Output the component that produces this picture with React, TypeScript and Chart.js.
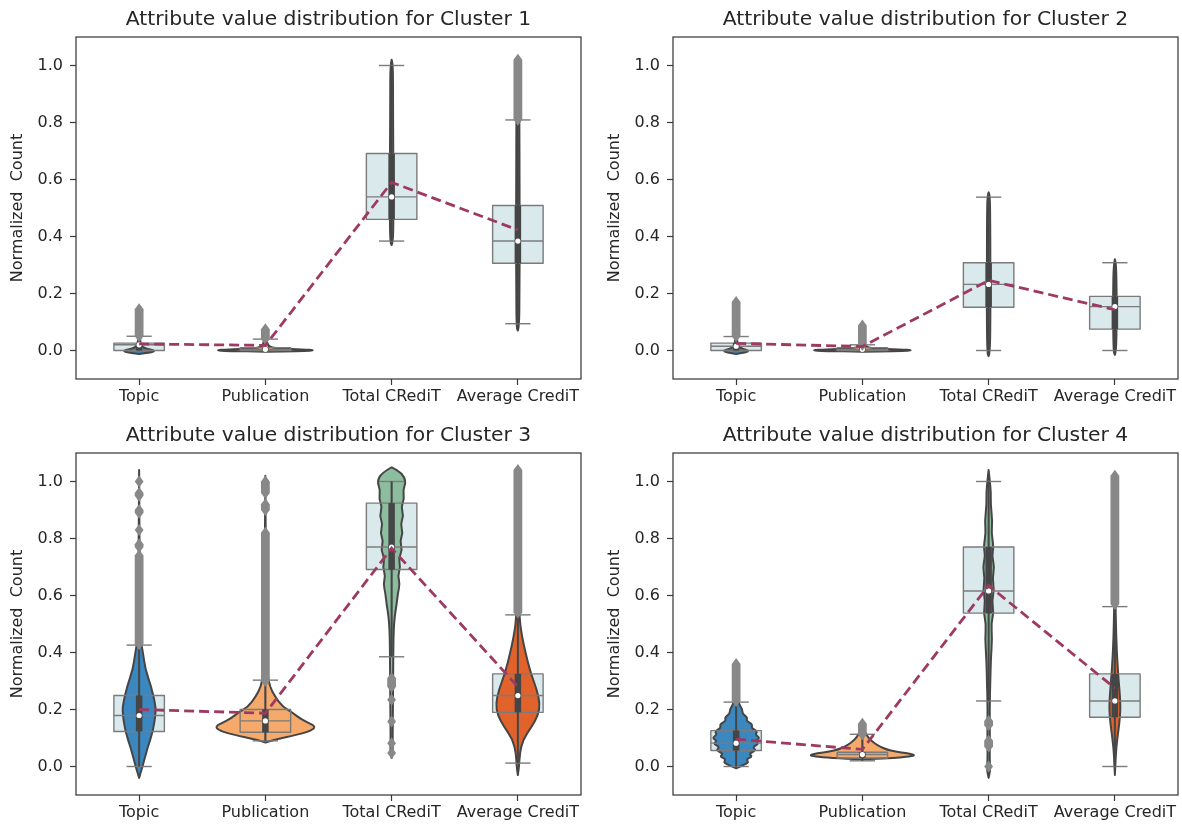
import React, { useEffect, useRef } from 'react';
import { Chart, registerables } from 'chart.js';

Chart.register(...registerables);

// ---------------- data ----------------
const CATEGORIES = ['Topic', 'Publication', 'Total CRediT', 'Average CrediT'];
const TITLES = [
  'Attribute value distribution for Cluster 1',
  'Attribute value distribution for Cluster 2',
  'Attribute value distribution for Cluster 3',
  'Attribute value distribution for Cluster 4',
];
const Y_TICKS = [0, 0.2, 0.4, 0.6, 0.8, 1.0];
const Y_LABEL = 'Normalized  Count';

// box stats per category: [lower whisker, Q1, median, Q3, upper whisker]
const C1_BOX = [
  [0.0, 0.0, 0.02, 0.026, 0.05],
  [0.0, 0.0, 0.004, 0.01, 0.04],
  [0.384, 0.46, 0.539, 0.691, 1.0],
  [0.094, 0.306, 0.384, 0.509, 0.809],
];
const C2_BOX = [
  [0.0, 0.0, 0.015, 0.026, 0.049],
  [0.0, 0.0, 0.004, 0.01, 0.02],
  [0.0, 0.152, 0.232, 0.308, 0.538],
  [0.0, 0.075, 0.154, 0.19, 0.308],
];
const C3_BOX = [
  [0.0, 0.123, 0.179, 0.249, 0.426],
  [0.09, 0.12, 0.16, 0.2, 0.303],
  [0.385, 0.691, 0.77, 0.924, 1.0],
  [0.012, 0.19, 0.249, 0.325, 0.532],
];
const C4_BOX = [
  [0.0, 0.056, 0.082, 0.126, 0.226],
  [0.02, 0.03, 0.042, 0.05, 0.113],
  [0.23, 0.538, 0.616, 0.77, 1.0],
  [0.0, 0.173, 0.23, 0.325, 0.561],
];

// mean per category (dashed line)
const C1_MEAN = [0.023, 0.018, 0.59, 0.423];
const C2_MEAN = [0.025, 0.014, 0.246, 0.143];
const C3_MEAN = [0.2, 0.187, 0.766, 0.28];
const C4_MEAN = [0.096, 0.06, 0.635, 0.275];

// outliers per category: [low, high] runs of overlapping markers
const C1_FLIERS = [[[0.05, 0.145]], [[0.04, 0.075]], [], [[0.81, 1.02]]];
const C2_FLIERS = [[[0.05, 0.17]], [[0.02, 0.088]], [], []];
const C3_FLIERS = [
  [[0.43, 0.74], [0.77, 0.78], [0.83, 0.83], [0.89, 0.9], [0.95, 0.96], [1.0, 1.0]],
  [[0.3, 0.82], [0.9, 0.92], [0.96, 1.0]],
  [[0.28, 0.31], [0.234, 0.234], [0.158, 0.158], [0.082, 0.082], [0.047, 0.047]],
  [[0.54, 1.04]],
];
const C4_FLIERS = [
  [[0.23, 0.36]],
  [[0.113, 0.15]],
  [[0.145, 0.16], [0.07, 0.09], [0.0, 0.0]],
  [[0.57, 1.02]],
];

// violin profiles: [value, half width as share of category width]
const C1_VIOLINS = [
  [[-0.012, 0], [-0.007, 0.09], [-0.002, 0.125], [0.003, 0.1], [0.008, 0.04], [0.02, 0.012], [0.05, 0.006], [0.15, 0]],
  [[-0.004, 0], [-0.002, 0.3], [0.001, 0.4], [0.004, 0.3], [0.007, 0.1], [0.012, 0.03], [0.03, 0.01], [0.075, 0]],
  [[0.37, 0], [0.38, 0.01], [0.45, 0.014], [0.6, 0.014], [0.75, 0.012], [0.9, 0.011], [1.0, 0.01], [1.02, 0]],
  [[0.07, 0], [0.08, 0.01], [0.2, 0.013], [0.4, 0.014], [0.6, 0.013], [0.8, 0.012], [1.0, 0.01], [1.02, 0]],
];
const C2_VIOLINS = [
  [[-0.012, 0], [-0.007, 0.07], [-0.002, 0.1], [0.003, 0.08], [0.008, 0.035], [0.02, 0.012], [0.05, 0.005], [0.17, 0]],
  [[-0.004, 0], [-0.002, 0.3], [0.001, 0.41], [0.004, 0.3], [0.007, 0.08], [0.015, 0.02], [0.04, 0.008], [0.09, 0]],
  [[-0.02, 0], [-0.01, 0.01], [0.1, 0.014], [0.3, 0.014], [0.5, 0.012], [0.545, 0.008], [0.555, 0]],
  [[-0.015, 0], [-0.005, 0.01], [0.1, 0.014], [0.2, 0.014], [0.3, 0.01], [0.32, 0]],
];
const C3_VIOLINS = [
  [[-0.04, 0], [0.0, 0.027], [0.064, 0.065], [0.123, 0.11], [0.19, 0.132], [0.22, 0.127], [0.28, 0.096], [0.34, 0.05], [0.4, 0.03], [0.45, 0.01], [0.6, 0.005], [1.04, 0]],
  [[0.084, 0], [0.094, 0.07], [0.111, 0.25], [0.125, 0.36], [0.14, 0.4], [0.155, 0.33], [0.17, 0.27], [0.187, 0.22], [0.21, 0.137], [0.246, 0.075], [0.28, 0.035], [0.33, 0.015], [0.5, 0.006], [1.02, 0]],
  [[0.03, 0], [0.05, 0.01], [0.1, 0.008], [0.2, 0.01], [0.3, 0.012], [0.4, 0.013], [0.48, 0.016], [0.53, 0.025], [0.57, 0.04], [0.61, 0.05], [0.64, 0.065], [0.67, 0.05], [0.7, 0.07], [0.73, 0.055], [0.76, 0.085], [0.79, 0.065], [0.82, 0.09], [0.85, 0.07], [0.88, 0.095], [0.91, 0.075], [0.94, 0.1], [0.97, 0.09], [1.0, 0.115], [1.03, 0.08], [1.05, 0]],
  [[-0.03, 0], [0.0, 0.01], [0.047, 0.015], [0.094, 0.04], [0.14, 0.11], [0.18, 0.16], [0.22, 0.175], [0.27, 0.15], [0.33, 0.1], [0.4, 0.06], [0.456, 0.033], [0.51, 0.015], [0.6, 0.006], [1.04, 0]],
];
const C4_VIOLINS = [
  [[-0.006, 0], [0.005, 0.06], [0.015, 0.1], [0.025, 0.08], [0.035, 0.13], [0.045, 0.1], [0.057, 0.16], [0.068, 0.13], [0.08, 0.18], [0.09, 0.15], [0.1, 0.19], [0.112, 0.15], [0.123, 0.17], [0.135, 0.12], [0.148, 0.13], [0.16, 0.08], [0.172, 0.09], [0.185, 0.05], [0.2, 0.05], [0.22, 0.02], [0.26, 0.01], [0.36, 0]],
  [[0.025, 0], [0.03, 0.25], [0.035, 0.38], [0.04, 0.42], [0.046, 0.36], [0.052, 0.26], [0.06, 0.19], [0.07, 0.14], [0.08, 0.1], [0.095, 0.06], [0.11, 0.035], [0.13, 0.015], [0.15, 0]],
  [[-0.04, 0], [-0.01, 0.015], [0.02, 0.008], [0.1, 0.01], [0.2, 0.008], [0.3, 0.013], [0.38, 0.018], [0.45, 0.028], [0.5, 0.02], [0.54, 0.04], [0.58, 0.026], [0.62, 0.044], [0.66, 0.03], [0.7, 0.046], [0.74, 0.026], [0.77, 0.04], [0.82, 0.022], [0.86, 0.03], [0.92, 0.016], [0.96, 0.018], [1.0, 0.01], [1.04, 0]],
  [[-0.03, 0], [0.05, 0.008], [0.1, 0.02], [0.15, 0.035], [0.2, 0.045], [0.25, 0.04], [0.3, 0.03], [0.4, 0.015], [0.5, 0.008], [0.6, 0.004], [1.02, 0]],
];

// ---------------- styles ----------------
const FONT = "'DejaVu Sans', sans-serif";
const TEXT = '#262626';
const AXIS = '#3a3a3a';
const BOX_FILL = '#d9e9ec';
const BOX_EDGE = '#7b7b7b';
const VIOLIN_EDGE = '#454545';
const VIOLIN_COLORS = ['#3b87c0', '#f5a96b', '#8dbd9f', '#e1632b'];
const FLIER = '#888888';
const MEAN_COLOR = '#9e3a62';
const BOX_WIDTH = 0.4;
const CAP_WIDTH = 0.2;

const CANVAS_W = 585;
const CANVAS_H = 409;

const PANELS = [
  { title: TITLES[0], box: C1_BOX, mean: C1_MEAN, fliers: C1_FLIERS, violins: C1_VIOLINS, left: 0, top: 0 },
  { title: TITLES[1], box: C2_BOX, mean: C2_MEAN, fliers: C2_FLIERS, violins: C2_VIOLINS, left: 597, top: 0 },
  { title: TITLES[2], box: C3_BOX, mean: C3_MEAN, fliers: C3_FLIERS, violins: C3_VIOLINS, left: 0, top: 416 },
  { title: TITLES[3], box: C4_BOX, mean: C4_MEAN, fliers: C4_FLIERS, violins: C4_VIOLINS, left: 597, top: 416 },
];

function smoothPath(ctx: CanvasRenderingContext2D, pts: number[][], start: boolean) {
  if (start) ctx.moveTo(pts[0][0], pts[0][1]);
  else ctx.lineTo(pts[0][0], pts[0][1]);
  for (let k = 1; k < pts.length - 1; k++) {
    const mx = (pts[k][0] + pts[k + 1][0]) / 2;
    const my = (pts[k][1] + pts[k + 1][1]) / 2;
    ctx.quadraticCurveTo(pts[k][0], pts[k][1], mx, my);
  }
  const last = pts[pts.length - 1];
  ctx.lineTo(last[0], last[1]);
}

function seg(ctx: CanvasRenderingContext2D, x0: number, y0: number, x1: number, y1: number) {
  ctx.beginPath();
  ctx.moveTo(x0, y0);
  ctx.lineTo(x1, y1);
  ctx.stroke();
}

function makePlugin(boxes: number[][], violins: number[][][], fliers: number[][][]) {
  return {
    id: 'boxViolin',
    beforeDatasetsDraw(chart: any) {
      const { ctx, chartArea: a, scales } = chart;
      const xs = scales.x;
      const ys = scales.y;
      const cw = xs.getPixelForValue(1) - xs.getPixelForValue(0);
      const py = (v: number) => ys.getPixelForValue(v);
      const bh = (BOX_WIDTH * cw) / 2;
      const ch = (CAP_WIDTH * cw) / 2;
      ctx.save();
      ctx.beginPath();
      ctx.rect(a.left, a.top, a.right - a.left, a.bottom - a.top);
      ctx.clip();

      // box fills
      boxes.forEach((b, i) => {
        const cx = xs.getPixelForValue(i);
        ctx.fillStyle = BOX_FILL;
        ctx.fillRect(cx - bh, py(b[3]), 2 * bh, py(b[1]) - py(b[3]));
      });

      // violin bodies
      violins.forEach((prof, i) => {
        const cx = xs.getPixelForValue(i);
        const right = prof.map(([v, w]) => [cx + w * cw, py(v)]);
        const left = prof.map(([v, w]) => [cx - w * cw, py(v)]).reverse();
        ctx.beginPath();
        smoothPath(ctx, right, true);
        smoothPath(ctx, left, false);
        ctx.closePath();
        ctx.fillStyle = VIOLIN_COLORS[i];
        ctx.fill();
        ctx.lineJoin = 'round';
        ctx.lineWidth = 2;
        ctx.strokeStyle = VIOLIN_EDGE;
        ctx.stroke();
      });

      // box outlines, medians, whiskers, caps
      boxes.forEach((b, i) => {
        const cx = xs.getPixelForValue(i);
        ctx.strokeStyle = BOX_EDGE;
        ctx.lineWidth = 1.4;
        ctx.lineCap = 'butt';
        ctx.strokeRect(cx - bh, py(b[3]), 2 * bh, py(b[1]) - py(b[3]));
        seg(ctx, cx - bh, py(b[2]), cx + bh, py(b[2]));
        seg(ctx, cx, py(b[1]), cx, py(b[0]));
        seg(ctx, cx, py(b[3]), cx, py(b[4]));
        seg(ctx, cx - ch, py(b[0]), cx + ch, py(b[0]));
        seg(ctx, cx - ch, py(b[4]), cx + ch, py(b[4]));
      });

      // violin inner boxes
      boxes.forEach((b, i) => {
        const cx = xs.getPixelForValue(i);
        ctx.strokeStyle = VIOLIN_EDGE;
        ctx.lineCap = 'butt';
        ctx.lineWidth = 2;
        seg(ctx, cx, py(b[0]), cx, py(b[4]));
        ctx.lineWidth = 6.5;
        seg(ctx, cx, py(b[1]), cx, py(b[3]));
        ctx.fillStyle = '#ffffff';
        ctx.beginPath();
        ctx.arc(cx, py(b[2]), 2.6, 0, Math.PI * 2);
        ctx.fill();
      });

      // fliers (thin diamonds, overlapping into columns)
      fliers.forEach((runs, i) => {
        const cx = xs.getPixelForValue(i);
        const rw = 4.4;
        const rh = 6;
        ctx.fillStyle = FLIER;
        runs.forEach(([lo, hi]) => {
          const yHi = py(hi);
          const yLo = py(lo);
          ctx.beginPath();
          ctx.moveTo(cx, yHi - rh);
          ctx.lineTo(cx + rw, yHi);
          ctx.lineTo(cx + rw, yLo);
          ctx.lineTo(cx, yLo + rh);
          ctx.lineTo(cx - rw, yLo);
          ctx.lineTo(cx - rw, yHi);
          ctx.closePath();
          ctx.fill();
        });
      });
      ctx.restore();
    },
    afterDraw(chart: any) {
      const { ctx, chartArea: a } = chart;
      ctx.save();
      ctx.strokeStyle = AXIS;
      ctx.lineWidth = 1.25;
      ctx.strokeRect(a.left, a.top, a.right - a.left, a.bottom - a.top);
      ctx.restore();
    },
  };
}

function Panel({ p }: { p: any }) {
  const ref = useRef<HTMLCanvasElement | null>(null);
  useEffect(() => {
    if (!ref.current) return;
    const tickFont = { family: FONT, size: 16 };
    const chart = new Chart(ref.current, {
      type: 'line',
      data: {
        labels: CATEGORIES,
        datasets: [
          {
            data: p.mean,
            borderColor: MEAN_COLOR,
            borderWidth: 2.8,
            borderDash: [10, 5],
            pointRadius: 0,
            fill: false,
            tension: 0,
          },
        ],
      },
      options: {
        responsive: false,
        animation: false,
        layout: { padding: { top: 0, right: 4, bottom: 0, left: 0 } },
        plugins: {
          legend: { display: false },
          tooltip: { enabled: false },
          title: {
            display: true,
            text: p.title,
            fullSize: false,
            color: TEXT,
            font: { family: FONT, size: 20.3, weight: 'normal' },
            padding: { top: 7.8, bottom: 4.84 },
          },
        },
        scales: {
          x: {
            type: 'category',
            offset: true,
            grid: {
              display: true,
              drawOnChartArea: false,
              drawTicks: true,
              tickLength: 6,
              tickColor: AXIS,
              tickWidth: 1.2,
              offset: false,
            },
            border: { display: false },
            ticks: { color: TEXT, font: tickFont, padding: 2, maxRotation: 0, autoSkip: false },
            afterFit: (s: any) => {
              s.height = 30;
            },
          },
          y: {
            type: 'linear',
            min: -0.1,
            max: 1.1,
            afterBuildTicks: (s: any) => {
              s.ticks = Y_TICKS.map((v) => ({ value: v }));
            },
            grid: {
              display: true,
              drawOnChartArea: false,
              drawTicks: true,
              tickLength: 6,
              tickColor: AXIS,
              tickWidth: 1.2,
            },
            border: { display: false },
            ticks: {
              color: TEXT,
              font: tickFont,
              padding: 7,
              callback: (v: any) => Number(v).toFixed(1),
            },
            title: {
              display: true,
              text: Y_LABEL,
              color: TEXT,
              font: tickFont,
              padding: { top: 8.5, bottom: 0 },
            },
            afterFit: (s: any) => {
              s.width = 76;
            },
          },
        },
      } as any,
      plugins: [makePlugin(p.box, p.violins, p.fliers)],
    });
    return () => chart.destroy();
  }, [p]);
  return (
    <canvas
      ref={ref}
      width={CANVAS_W}
      height={CANVAS_H}
      style={{ position: 'absolute', left: p.left, top: p.top, width: CANVAS_W, height: CANVAS_H }}
    />
  );
}

export default function App() {
  return (
    <div style={{ position: 'absolute', left: 0, top: 0, width: 1182, height: 825, background: '#ffffff', overflow: 'hidden' }}>
      {PANELS.map((p, i) => (
        <Panel key={i} p={p} />
      ))}
    </div>
  );
}
